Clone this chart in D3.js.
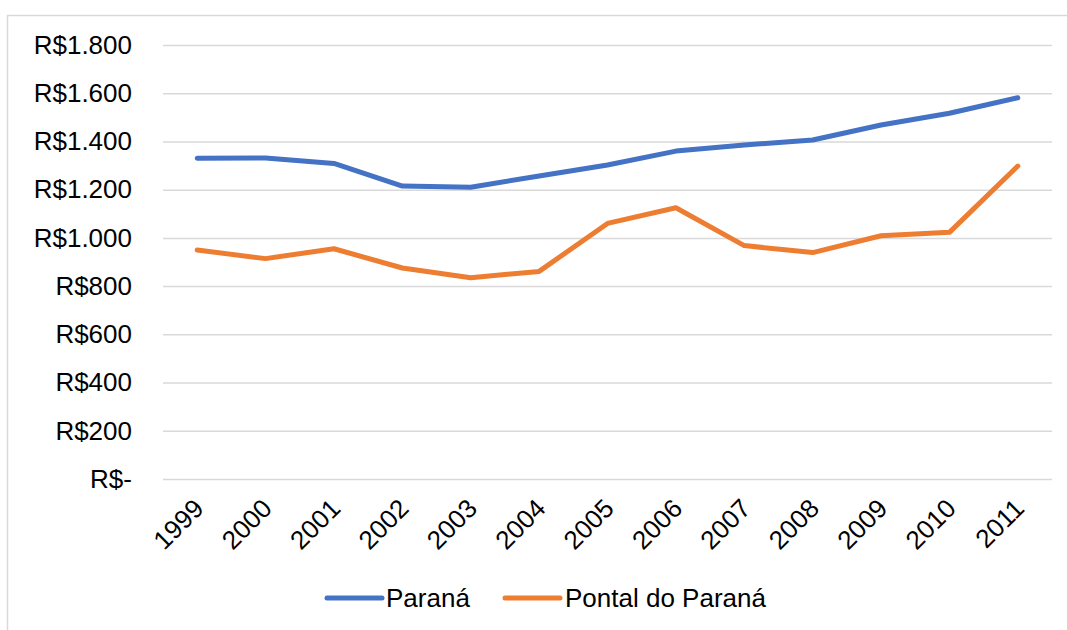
<!DOCTYPE html>
<html><head><meta charset="utf-8">
<script src="https://cdn.jsdelivr.net/npm/d3@7"></script>
<style>body{margin:0;background:#fff;} svg{display:block;font-family:"Liberation Sans",Arial,sans-serif;}</style>
</head><body><svg id="c" width="1067" height="630"></svg>
<script>
const years = ["1999","2000","2001","2002","2003","2004","2005","2006","2007","2008","2009","2010","2011"];
const parana = [1330,1331,1309,1215,1210,1257,1302,1360,1385,1406,1468,1517,1581];
const pontal = [950,914,955,875,835,861,1060,1125,968,939,1009,1023,1298];
const yTicks = [0,200,400,600,800,1000,1200,1400,1600,1800];
const seriesNames = ["Paraná","Pontal do Paraná"];
const colors = ["#4472C4","#ED7D31"];

const svg = d3.select("#c");
svg.append("rect").attr("x",7.5).attr("y",15.5).attr("width",1070).attr("height",630).attr("fill","none").attr("stroke","#d9d9d9").attr("stroke-width",1.5);

const x = d3.scaleBand().domain(years).range([163,1052]);
const y = d3.scaleLinear().domain([0,1800]).range([479,45]);
const fmt = v => v===0 ? "R$-" : "R$" + d3.format(",")(v).replace(/,/g,".");
const FS = 26;

const gy = svg.append("g").attr("transform","translate(163,0)")
  .call(d3.axisLeft(y).tickValues(yTicks).tickSize(-(1052-163)).tickPadding(31).tickFormat(fmt));
gy.select(".domain").remove();
gy.selectAll(".tick line").attr("stroke","#d9d9d9").attr("stroke-width",1.5);
gy.selectAll(".tick text").attr("font-size",FS).attr("fill","#000").attr("font-family","Liberation Sans, Arial, sans-serif");

const gx = svg.append("g").attr("transform","translate(0,479)")
  .call(d3.axisBottom(x).tickSize(0).tickPadding(0));
gx.select(".domain").remove();
gx.selectAll(".tick text").attr("font-size",FS).attr("fill","#000").attr("font-family","Liberation Sans, Arial, sans-serif")
  .attr("text-anchor","end").attr("dy","0").attr("y",0)
  .attr("transform","translate(8,31) rotate(-45)");

const line = d3.line().x((d,i)=>x(years[i])+x.bandwidth()/2).y(d=>y(d));
[parana,pontal].forEach((s,i)=>{
  svg.append("path").datum(s).attr("d",line).attr("fill","none").attr("stroke",colors[i])
    .attr("stroke-width",5).attr("stroke-linecap","round").attr("stroke-linejoin","round");
});

const leg = [{x1:327,x2:382,tx:386},{x1:505,x2:560,tx:565}];
seriesNames.forEach((n,i)=>{
  svg.append("line").attr("x1",leg[i].x1).attr("x2",leg[i].x2).attr("y1",598).attr("y2",598)
    .attr("stroke",colors[i]).attr("stroke-width",5).attr("stroke-linecap","round");
  svg.append("text").attr("x",leg[i].tx).attr("y",607).attr("font-size",FS).attr("fill","#000").text(n);
});
</script></body></html>
